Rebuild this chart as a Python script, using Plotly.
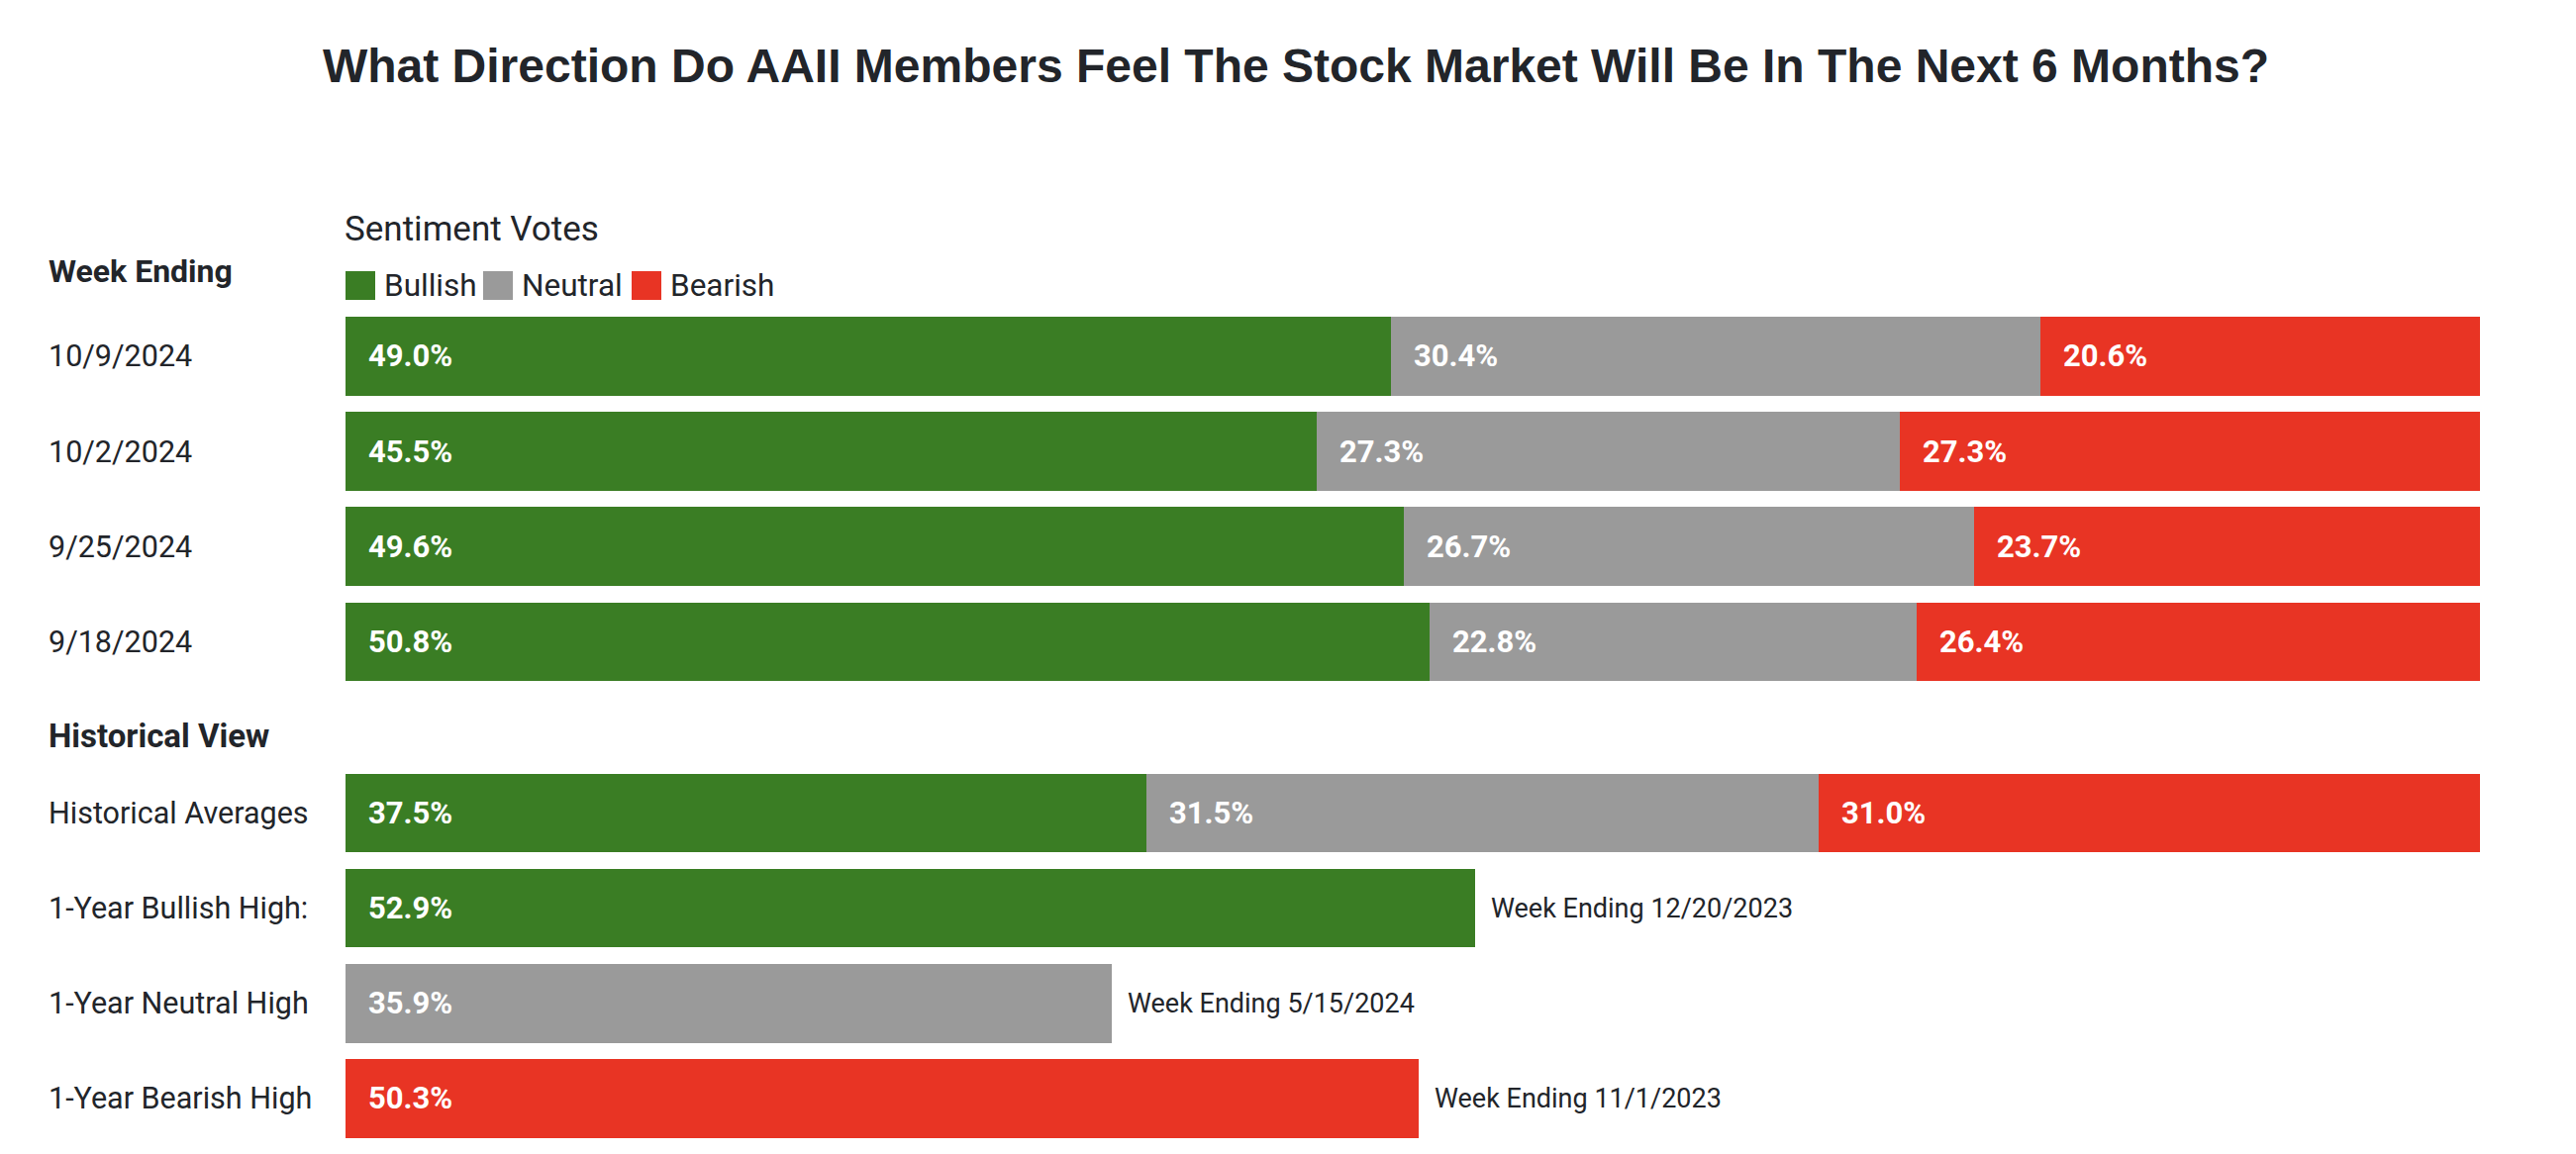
import plotly.graph_objects as go
from plotly.subplots import make_subplots

W, H = 2602, 1166
PAD = 8  # browser default body margin
WF, HF = W - 2 * PAD, H - 2 * PAD

title_text = "What Direction Do AAII Members Feel The Stock Market Will Be In The Next 6 Months?"

series_names = ["Bullish", "Neutral", "Bearish"]
colors = {"Bullish": "#3A7D24", "Neutral": "#9A9A9A", "Bearish": "#E83424"}

weeks = ["10/9/2024", "10/2/2024", "9/25/2024", "9/18/2024"]
week_bullish = [49.0, 45.5, 49.6, 50.8]
week_neutral = [30.4, 27.3, 26.7, 22.8]
week_bearish = [20.6, 27.3, 23.7, 26.4]

hist_rows = ["Historical Averages", "1-Year Bullish High:", "1-Year Neutral High", "1-Year Bearish High"]
hist_bullish = [37.5, 52.9, None, None]
hist_neutral = [31.5, None, 35.9, None]
hist_bearish = [31.0, None, None, 50.3]
hist_notes = [None, "Week Ending 12/20/2023", "Week Ending 5/15/2024", "Week Ending 11/1/2023"]

TEXT = "#22252A"
FONT = "Roboto"


def clamp(v):
    return min(1.0, max(0.0, v))


def px_y(p):
    return clamp(1 - (p - PAD) / HF)


def px_x(p):
    return clamp((p - PAD) / WF)


fig = make_subplots(rows=2, cols=1)

top = {"Bullish": week_bullish, "Neutral": week_neutral, "Bearish": week_bearish}
bot = {"Bullish": hist_bullish, "Neutral": hist_neutral, "Bearish": hist_bearish}

for name in series_names:
    fig.add_trace(go.Bar(y=weeks, x=top[name], orientation="h", name=name,
                         marker=dict(color=colors[name], line=dict(width=0)),
                         showlegend=False, hoverinfo="skip"), row=1, col=1)
    fig.add_trace(go.Bar(y=hist_rows, x=bot[name], orientation="h", name=name,
                         marker=dict(color=colors[name], line=dict(width=0)),
                         showlegend=False, hoverinfo="skip"), row=2, col=1)

annotations = []


def seg_labels(cats, data, yref):
    for i, cat in enumerate(cats):
        base = 0.0
        for name in series_names:
            v = data[name][i]
            if v is None:
                continue
            annotations.append(dict(
                x=base, y=cat, xref="x" if yref == "y" else "x2", yref=yref,
                text=f"<b>{v:.1f}%</b>", showarrow=False, xanchor="left", yanchor="middle",
                xshift=21, font=dict(family=FONT, size=31, color="white")))
            base += v


seg_labels(weeks, top, "y")
seg_labels(hist_rows, bot, "y2")

# row labels
for cat in weeks:
    annotations.append(dict(x=px_x(50), y=cat, xref="paper", yref="y", text=cat,
                            showarrow=False, xanchor="left", yanchor="middle", xshift=-3,
                            font=dict(family=FONT, size=30.5, color=TEXT)))
for cat in hist_rows:
    annotations.append(dict(x=px_x(50), y=cat, xref="paper", yref="y2", text=cat,
                            showarrow=False, xanchor="left", yanchor="middle", xshift=-3,
                            font=dict(family=FONT, size=30.5, color=TEXT)))

# notes after the high bars
for i, note in enumerate(hist_notes):
    if note is None:
        continue
    val = [v for v in (hist_bullish[i], hist_neutral[i], hist_bearish[i]) if v is not None][0]
    annotations.append(dict(x=val, y=hist_rows[i], xref="x2", yref="y2", text=note,
                            showarrow=False, xanchor="left", yanchor="middle", xshift=14,
                            font=dict(family=FONT, size=27, color=TEXT)))

# headers
annotations.append(dict(x=px_x(50), y=px_y(274), xref="paper", yref="paper", text="<b>Week Ending</b>",
                        showarrow=False, xanchor="left", yanchor="middle", xshift=-3,
                        font=dict(family=FONT, size=32, color=TEXT)))
annotations.append(dict(x=px_x(50), y=px_y(743), xref="paper", yref="paper", text="<b>Historical View</b>",
                        showarrow=False, xanchor="left", yanchor="middle", xshift=-3,
                        font=dict(family=FONT, size=33, color=TEXT)))
annotations.append(dict(x=px_x(349), y=px_y(232), xref="paper", yref="paper", text="Sentiment Votes",
                        showarrow=False, xanchor="left", yanchor="middle", xshift=-3,
                        font=dict(family=FONT, size=35, color=TEXT)))

# legend (swatches + labels)
shapes = []
leg_x = [349, 488, 638]
for name, x0 in zip(series_names, leg_x):
    shapes.append(dict(type="rect", xref="paper", yref="paper",
                       x0=px_x(x0), x1=px_x(x0 + 30), y0=px_y(303), y1=px_y(274),
                       fillcolor=colors[name], line=dict(width=0)))
    annotations.append(dict(x=px_x(x0 + 40), y=px_y(289), xref="paper", yref="paper", text=name,
                            showarrow=False, xanchor="left", yanchor="middle", xshift=-3,
                            font=dict(family=FONT, size=31.5, color=TEXT)))

fig.update_layout(
    width=WF, height=HF,
    margin=dict(l=0, r=0, t=0, b=0),
    paper_bgcolor="white", plot_bgcolor="white",
    barmode="stack", bargap=0.171,
    showlegend=False,
    title=dict(text=f"<b>{title_text}</b>", x=px_x(1309), xanchor="center", y=px_y(66), yanchor="middle",
               yref="container", font=dict(family="Liberation Sans", size=48, color=TEXT)),
    annotations=annotations, shapes=shapes,
)

xdom = [px_x(349), px_x(2505)]
fig.update_xaxes(range=[0, 100], domain=xdom, visible=False, fixedrange=True)
fig.update_yaxes(visible=False, autorange="reversed", fixedrange=True)
fig.update_layout(
    yaxis=dict(domain=[px_y(696.7), px_y(311.8)]),
    yaxis2=dict(domain=[px_y(1158.0), px_y(773.3)]),
)

fig.write_html("out.html")
